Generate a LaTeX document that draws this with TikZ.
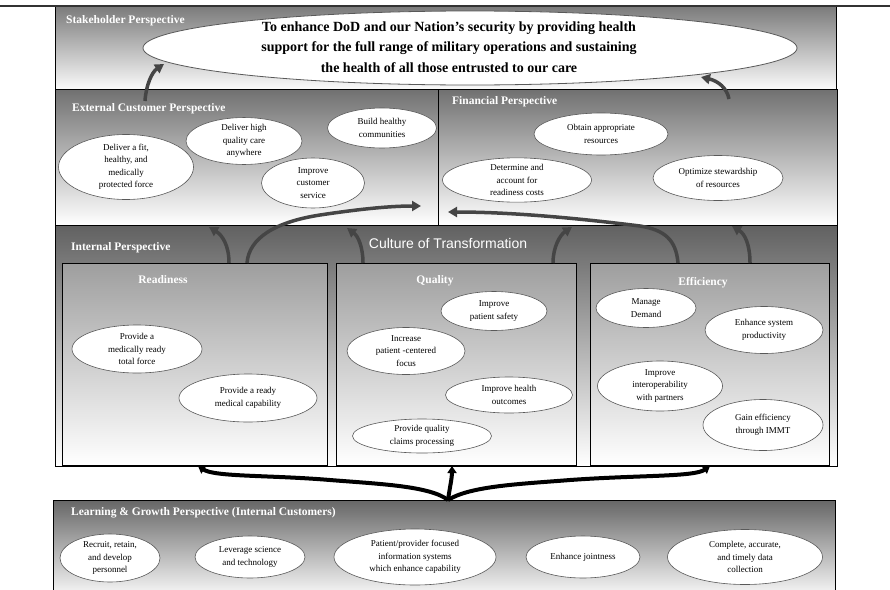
\documentclass[tikz,border=0pt]{standalone}
\usepackage{fontspec}
\setmainfont{Liberation Serif}
\newfontfamily\sansf{Liberation Sans}
\usetikzlibrary{shapes.geometric,arrows.meta}
\definecolor{arrowgray}{gray}{0.27}
\definecolor{ovalline}{gray}{0.35}
\begin{document}
\begin{tikzpicture}[x=1pt,y=-1pt,
  panel/.style={draw=black, line width=0.8pt, rectangle, inner sep=0pt, outer sep=0pt, anchor=north west},
  heading/.style={text=white, font=\bfseries\fontsize{11.5}{13}\selectfont, inner sep=0pt},
  oval/.style={ellipse, draw=ovalline, line width=0.6pt, fill=white, inner sep=0pt, align=center, font=\fontsize{9}{12.5}\selectfont},
  flow/.style={draw=arrowgray, line width=3.5pt, -{Triangle[length=9pt,width=10pt]}},
  bigflow/.style={draw=black, line width=4pt, -{Triangle[length=7pt,width=9pt]}}
]
\useasboundingbox (0,0) rectangle (890,589);
\fill[white] (0,0) rectangle (890,589);

% panels
\node[panel, top color=black!52, bottom color=black!2, minimum width=781, minimum height=83] (stake) at (55,6) {};
\node[panel, top color=black!56, bottom color=white, minimum width=383, minimum height=136] (ext) at (55,89) {};
\node[panel, top color=black!56, bottom color=white, minimum width=399, minimum height=136] (fin) at (438,89) {};
\node[panel, top color=black!62, bottom color=white, minimum width=782, minimum height=241] (int) at (55,225) {};
\node[panel, top color=black!38, bottom color=white, minimum width=265, minimum height=202] (ready) at (62,263) {};
\node[panel, top color=black!38, bottom color=white, minimum width=240, minimum height=202] (qual) at (336,263) {};
\node[panel, top color=black!38, bottom color=white, minimum width=239, minimum height=202] (effic) at (590,263) {};
\node[panel, draw=none, top color=black!60, bottom color=white, minimum width=782, minimum height=100] (learn) at (53,500) {};
\draw[line width=0.8pt] (learn.south west) -- (learn.north west) -- (learn.north east) -- (learn.south east);

% top rule
\draw[line width=2pt, black!80] (0,6) -- (890,6);

% headings
\node[heading, anchor=west] (hstake) at (66,21) {Stakeholder Perspective};
\node[heading, anchor=west] (hext) at (72,109) {External Customer Perspective};
\node[heading, anchor=west] (hfin) at (452,102) {Financial Perspective};
\node[heading, anchor=west] (hint) at (71,248) {Internal Perspective};
\node[heading, anchor=west] (hlearn) at (71,513) {Learning \& Growth Perspective (Internal Customers)};
\node[heading] (hready) at (163,280) {Readiness};
\node[heading] (hqual) at (435,281) {Quality};
\node[heading] (heffic) at (703,283) {Efficiency};
\node[text=white, font=\sansf\fontsize{14}{16}\selectfont, inner sep=0pt] (culture) at (448,243) {Culture of Transformation};

% mission
\node[ellipse, draw=ovalline, line width=0.8pt, fill=white, inner sep=0pt, minimum width=654, minimum height=74] (mission) at (470,48) {};
\node[align=center, inner sep=0pt, font=\bfseries\fontsize{14}{20.5}\selectfont] (missiontext) at (449,47)
  {To enhance DoD and our Nation's security by providing health\\ support for the full range of military operations and sustaining\\ the health of all those entrusted to our care};

% external customer
\node[oval, minimum width=135, minimum height=65] (ext1) at (126,167) {Deliver a fit,\\ healthy, and\\ medically\\ protected force};
\node[oval, minimum width=116, minimum height=46] (ext2) at (244,141) {Deliver high\\ quality care\\ anywhere};
\node[oval, minimum width=103, minimum height=50] (ext3) at (313,183) {Improve\\ customer\\ service};
\node[oval, minimum width=109, minimum height=40] (ext4) at (382,128) {Build healthy\\ communities};
% financial
\node[oval, minimum width=134, minimum height=42] (fin1) at (601,134) {Obtain appropriate\\ resources};
\node[oval, minimum width=149, minimum height=44] (fin2) at (517,180) {Determine and\\ account for\\ readiness costs};
\node[oval, minimum width=130, minimum height=45] (fin3) at (718,178) {Optimize stewardship\\ of resources};
% readiness
\node[oval, minimum width=130, minimum height=48] (r1) at (137,349) {Provide a\\ medically ready\\ total force};
\node[oval, minimum width=138, minimum height=48] (r2) at (248,398) {Provide a ready\\ medical capability};
% quality
\node[oval, minimum width=106, minimum height=39] (q1) at (494,311) {Improve\\ patient safety};
\node[oval, minimum width=118, minimum height=47] (q2) at (406,351) {Increase\\ patient -centered\\ focus};
\node[oval, minimum width=127, minimum height=36] (q3) at (509,395) {Improve health\\ outcomes};
\node[oval, minimum width=139, minimum height=34] (q4) at (422,436) {Provide quality\\ claims processing};
% efficiency
\node[oval, minimum width=100, minimum height=39] (ef1) at (646,308) {Manage\\ Demand};
\node[oval, minimum width=118, minimum height=47] (ef2) at (764,330) {Enhance system\\ productivity};
\node[oval, minimum width=125, minimum height=50] (ef3) at (660,386) {Improve\\ interoperability\\ with partners};
\node[oval, minimum width=120, minimum height=51] (ef4) at (763,425) {Gain efficiency\\ through IMMT};
% learning
\node[oval, minimum width=100, minimum height=48] (l1) at (110,558) {Recruit, retain,\\ and develop\\ personnel};
\node[oval, minimum width=110, minimum height=42] (l2) at (250,557) {Leverage science\\ and technology};
\node[oval, minimum width=162, minimum height=56] (l3) at (415,557) {Patient/provider focused\\ information systems\\ which enhance capability};
\node[oval, minimum width=114, minimum height=42] (l4) at (583,557) {Enhance jointness};
\node[oval, minimum width=155, minimum height=55] (l5) at (745,557) {Complete, accurate,\\ and timely data\\ collection};

% arrow end points
\coordinate (a1s) at (145,101); \coordinate (a1e) at (164,64);
\coordinate (a2s) at (729,99);  \coordinate (a2e) at (701,77);
\coordinate (a3s) at (229,263); \coordinate (a3e) at (209,227);
\coordinate (a4s) at (247,263); \coordinate (a4e) at (421,206);
\coordinate (a5s) at (363,263); \coordinate (a5e) at (347,228);
\coordinate (a6s) at (553,263); \coordinate (a6e) at (572,227);
\coordinate (a7s) at (678,263); \coordinate (a7e) at (448,212);
\coordinate (a8s) at (750,263); \coordinate (a8e) at (732,226);
\coordinate (root) at (448,500);
\coordinate (bL) at (198,466); \coordinate (bM) at (452,466); \coordinate (bR) at (710,466);

\draw[flow] (a1s) .. controls (146,85) and (152,72) .. (a1e);
\draw[flow] (a2s) .. controls (727,88) and (718,81) .. (a2e);
\draw[flow] (a3s) .. controls (229,245) and (222,235) .. (a3e);
\draw[flow] (a4s) .. controls (249,238) and (275,222) .. (320,215) .. controls (360,209) and (390,206) .. (a4e);
\draw[flow] (a5s) .. controls (363,247) and (358,236) .. (a5e);
\draw[flow] (a6s) .. controls (553,247) and (560,235) .. (a6e);
\draw[flow] (a7s) .. controls (676,240) and (665,230) .. (640,226) .. controls (560,216) and (500,212) .. (a7e);
\draw[flow] (a8s) .. controls (750,245) and (745,234) .. (a8e);

\draw[bigflow] (root) .. controls (430,486) and (380,484) .. (330,480) .. controls (270,475) and (215,477) .. (bL);
\draw[bigflow] (root) .. controls (450,486) and (452,478) .. (bM);
\draw[bigflow] (root) .. controls (470,486) and (520,484) .. (570,480) .. controls (640,475) and (694,477) .. (bR);
\end{tikzpicture}
\end{document}
